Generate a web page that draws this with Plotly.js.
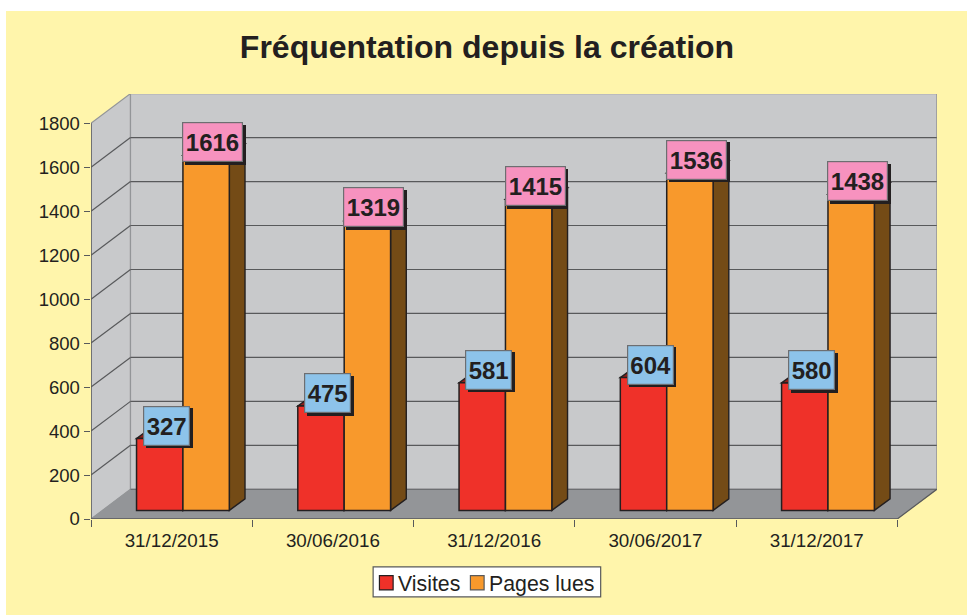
<!DOCTYPE html>
<html>
<head>
<meta charset="utf-8">
<script src="https://cdn.plot.ly/plotly-3.0.1.min.js"></script>
<style>
html,body{margin:0;padding:0;background:#fff;overflow:hidden}
#chart{position:absolute;left:6px;top:11px;width:961px;height:604px}
</style>
</head>
<body>
<div id="chart"></div>
<script>
const categories = ['31/12/2015','30/06/2016','31/12/2016','30/06/2017','31/12/2017'];
const visites = [327,475,581,604,580];
const pagesLues = [1616,1319,1415,1536,1438];
const yTicks = [0,200,400,600,800,1000,1200,1400,1600,1800];
const seriesNames = ['Visites','Pages lues'];

const FONT = 'Liberation Sans, Arial, sans-serif';
const INK = '#231f20', GRID = '#58595b', EDGE = '#939598';
const RED = '#ef3129', ORANGE = '#f8992c';
const pxX = 161.3, pxY = 0.22;          // pixels per axis unit
const wallDX = 39.5/pxX, wallDY = 29.7/pxY;   // oblique depth of the chart box
const barShiftX = 11.3/pxX, barBase = 8.6/pxY; // bars stand inside the floor
const barW = 46.4/pxX;
const barDX = 15.7/pxX, barDY = 11.5/pxY;     // oblique depth of a bar
const x0 = -0.5, x1 = categories.length - 0.5;
const idx = categories.map((_,i)=>i);
const barX = idx.map(i=>i+barShiftX);

function poly(pts, fill, line, w){
  return {type:'path', xref:'x', yref:'y', layer:'below',
    path:'M'+pts.map(p=>p[0]+' '+p[1]).join('L')+'Z',
    fillcolor:fill, line:{color:line||fill, width:w===undefined?1:w}};
}
function seg(a,b,color,w){
  return {type:'line', xref:'x', yref:'y', layer:'below',
    x0:a[0], y0:a[1], x1:b[0], y1:b[1], line:{color:color, width:w}};
}
const yMax = yTicks[yTicks.length-1];
const shapes = [
  poly([[x0,0],[x0+wallDX,wallDY],[x0+wallDX,yMax+wallDY],[x0,yMax]],'#c8c9cb',EDGE,1.2),
  poly([[x0+wallDX,wallDY],[x1+wallDX,wallDY],[x1+wallDX,yMax+wallDY],[x0+wallDX,yMax+wallDY]],'#c8c9cb',EDGE,1.2),
];
yTicks.slice(1,-1).forEach(v=>{
  shapes.push(seg([x0,v],[x0+wallDX,v+wallDY],GRID,1.2));
  shapes.push(seg([x0+wallDX,v+wallDY],[x1+wallDX,v+wallDY],GRID,1.2));
});
shapes.push(poly([[x0,0],[x1,0],[x1+wallDX,wallDY],[x0+wallDX,wallDY]],'#939598','#939598',0.5));
shapes.push(seg([x0+wallDX,wallDY],[x1+wallDX,wallDY],'#6d6e71',1.2));
shapes.push(seg([x1,0],[x1+wallDX,wallDY],GRID,1.2));
shapes.push(seg([x0,0],[x1,0],GRID,1.4));
shapes.push(seg([x0,0],[x0,yMax],GRID,1.4));

function addFaces(values, offset, sideColor, topColor){
  values.forEach((v,i)=>{
    const l = barX[i]+offset, r = l+barW, t = barBase+v, b = barBase;
    shapes.push(poly([[r,b],[r+barDX,b+barDY],[r+barDX,t+barDY],[r,t]],sideColor,INK,1.4));
    shapes.push(poly([[l,t],[r,t],[r+barDX,t+barDY],[l+barDX,t+barDY]],topColor,INK,1.4));
  });
}
addFaces(visites,-barW,'#8f1f1a','#8f1f1a');
addFaces(pagesLues,0,'#744b16','#744b16');

const annotations = [];
function addLabels(values, offset, color, boxW){
  values.forEach((v,i)=>{
    const base = {xref:'x', yref:'y', x:barX[i]+offset, y:barBase+v, width:boxW, height:38,
      borderpad:0, showarrow:false, xanchor:'center', yanchor:'middle', valign:'middle', align:'center'};
    annotations.push(Object.assign({},base,{text:' ', bgcolor:INK, borderwidth:1, bordercolor:INK, xshift:9.3, yshift:10.4, font:{size:10}}));
    annotations.push(Object.assign({},base,{text:String(v), bgcolor:color, borderwidth:1.2, bordercolor:'#6d6e71',
      xshift:6.6, yshift:13, font:{family:FONT,size:24,color:INK,weight:700}}));
  });
}
addLabels(visites,-barW/2,'#8dc3ea',45);
addLabels(pagesLues,barW/2,'#f792bf',58.6);

// Compact legend, placed relative to the plot area
const plotL = 90.5, plotB = 519.3, plotW = 846.2, plotH = 425.3;
const paperX = px => (px-plotL)/plotW, paperY = py => (plotB-py)/plotH;
function legendRect(l,t,r,b,fill,line,w){
  return {type:'rect', xref:'paper', yref:'paper', layer:'above',
    x0:paperX(l), x1:paperX(r), y0:paperY(b), y1:paperY(t), fillcolor:fill, line:{color:line,width:w}};
}
shapes.push(legendRect(372.7,567.3,600.3,597.3,'#ffffff',GRID,1.2));
shapes.push(legendRect(379,576,392.7,590.3,RED,INK,1.2));
shapes.push(legendRect(470,576,483.7,590.3,ORANGE,'#58595b',1.2));
[[seriesNames[0],396.5],[seriesNames[1],487.5]].forEach(([t,px])=>{
  annotations.push({xref:'paper', yref:'paper', x:paperX(px), y:paperY(584.3), text:t, showarrow:false,
    xanchor:'left', yanchor:'middle', borderpad:0, font:{family:FONT,size:21.3,color:INK}});
});

const traces = [
  {type:'bar', name:seriesNames[0], x:barX, y:visites, base:barBase, width:barW,
   marker:{color:RED, line:{color:INK,width:1.5}}, hoverinfo:'y'},
  {type:'bar', name:seriesNames[1], x:barX, y:pagesLues, base:barBase, width:barW,
   marker:{color:ORANGE, line:{color:INK,width:1.5}}, hoverinfo:'y'}
];

const layout = {
  width:961, height:604,
  paper_bgcolor:'#fff5ab', plot_bgcolor:'rgba(0,0,0,0)',
  margin:{l:84.5, r:30.3, t:83, b:95.7, pad:0, autoexpand:false},
  font:{family:FONT, color:INK},
  barmode:'group', bargap:0.4246, bargroupgap:0,
  title:{text:'<b>Fréquentation depuis la création</b>', x:0.5005, xref:'container', xanchor:'center',
         y:0.9404, yref:'container', yanchor:'middle', font:{family:FONT,size:32,color:INK}},
  xaxis:{range:[x0, x0+plotW/pxX], tickmode:'array', tickvals:idx, ticktext:categories,
         ticks:'', ticklen:0, showgrid:false, zeroline:false, showline:false,
         tickfont:{family:FONT,size:18.8,color:INK}, ticklabelstandoff:8,
         minor:{tickmode:'array', tickvals:idx.map(i=>i-0.5).concat([x1]), ticks:'outside', ticklen:6.5, tickcolor:GRID, tickwidth:1.2}},
  yaxis:{range:[0, plotH/pxY], tickmode:'array', tickvals:yTicks, ticks:'outside', ticklen:6.5,
         tickcolor:GRID, tickwidth:1.2, showgrid:false, zeroline:false, showline:false,
         tickfont:{family:FONT,size:18.5,color:INK}},
  shapes:shapes, annotations:annotations, showlegend:false
};
Plotly.newPlot('chart', traces, layout, {displayModeBar:false, responsive:false});
</script>
</body>
</html>
